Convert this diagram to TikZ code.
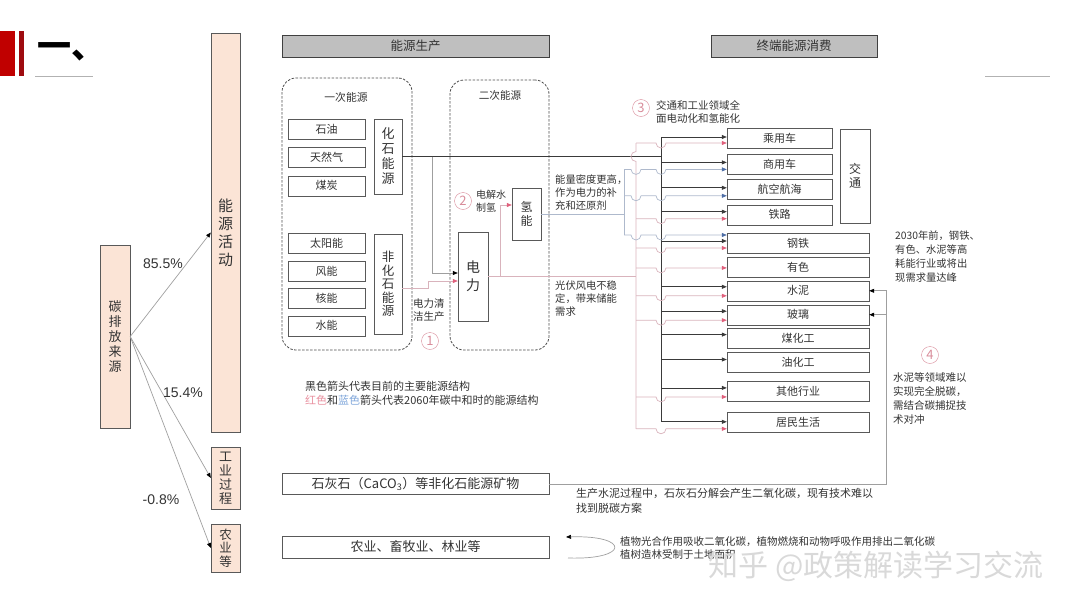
\documentclass[tikz,border=0pt]{standalone}
\usepackage{fontspec}
\setmainfont{Noto Sans CJK SC}
\newfontfamily\arialfont{Liberation Sans}
\usetikzlibrary{arrows.meta, positioning}

\definecolor{peach}{HTML}{FBE4D6}
\definecolor{edge}{HTML}{595959}
\definecolor{hdrfill}{HTML}{BFBFBF}
\definecolor{txt}{HTML}{333333}
\definecolor{kcol}{HTML}{3A3A3A}
\definecolor{rcol}{HTML}{D9B3BC}
\definecolor{rtip}{HTML}{E0607C}
\definecolor{bcol}{HTML}{AEB9CC}
\definecolor{btip}{HTML}{4E6EA6}
\definecolor{numcol}{HTML}{D88C9A}
\definecolor{legr}{HTML}{E8909F}
\definecolor{legb}{HTML}{7FA6DA}
\definecolor{titlered}{HTML}{C00000}
\definecolor{titledark}{HTML}{9E0B0F}

\newcommand{\fs}[2]{\fontsize{#1}{#2}\selectfont}

\begin{document}
\begin{tikzpicture}[
    x=1pt, y=-1pt,
    every node/.style={text=txt},
    tall/.style={rectangle, draw=edge, fill=peach, inner sep=0pt, align=center, minimum width=29pt},
    head/.style={rectangle, draw=black!75, fill=hdrfill, inner sep=0pt, minimum height=22pt, font=\fs{12.5}{14}},
    grp/.style={rectangle, draw=black!70, line width=0.8pt, dash pattern=on 2.5pt off 1.5pt, rounded corners=14pt, inner sep=0pt},
    src/.style={rectangle, draw=edge, inner sep=0pt, minimum width=77pt, minimum height=20pt, font=\fs{11}{13}},
    vbox/.style={rectangle, draw=edge, inner sep=0pt, align=center},
    use/.style={rectangle, draw=edge, inner sep=0pt, minimum height=20pt, font=\fs{11}{13}},
    wide/.style={rectangle, draw=edge, inner sep=0pt, minimum width=267pt, minimum height=21pt, font=\fs{13}{15}},
    note/.style={anchor=north west, align=left, inner sep=0pt},
    num/.style={circle, draw=numcol, text=numcol, inner sep=0pt, minimum size=17pt, font=\fs{13}{13}},
    pct/.style={font=\arialfont\fs{14}{16}, inner sep=0pt},
    kwire/.style={draw=kcol, line width=0.7pt},
    gwire/.style={draw=gray!75, line width=0.7pt},
    rwire/.style={draw=rcol, line width=0.7pt},
    bwire/.style={draw=bcol, line width=0.7pt},
    karr/.style={kwire, -{Triangle[length=5pt,width=4pt]}},
    garr/.style={gwire, -{Triangle[length=5pt,width=4pt,color=black]}},
    rarr/.style={rwire, -{Triangle[length=5pt,width=4pt,color=rtip]}},
    barr/.style={bwire, -{Triangle[length=5pt,width=4pt,color=btip]}},
]
    \useasboundingbox (0,0) rectangle (1080,608);

    % Title
    \fill[titlered] (0,31) rectangle (15,76);
    \fill[titledark] (19,31) rectangle (24,76);
    \node[anchor=west, text=black, font=\bfseries\fs{34}{34}] (title) at (34,52) {一、};
    \draw[gray!60, line width=0.6pt] (35,76) -- (93,76);
    \draw[gray!60, line width=0.6pt] (985,76) -- (1050,76);

    % Carbon sources
    \node[tall, minimum width=30pt, minimum height=183pt, font=\fs{13}{15}] (carbon) at (115,336.5) {碳\\排\\放\\来\\源};
    \node[tall, minimum height=399pt, font=\fs{15}{18}] (energy) at (225.5,232.5) {能\\源\\活\\动};
    \node[tall, minimum height=62pt, font=\fs{13}{14}] (indus) at (225.5,478) {工\\业\\过\\程};
    \node[tall, minimum height=48pt, font=\fs{12.5}{13.5}] (agri) at (225.5,548) {农\\业\\等};

    \draw[garr] (carbon.east) -- (energy.west);
    \draw[garr] (carbon.east) -- (indus.west);
    \draw[garr] (carbon.east) -- (agri.west);
    \node[pct] (p1) at (163,264) {85.5\%};
    \node[pct] (p2) at (183,393) {15.4\%};
    \node[pct] (p3) at (161,500) {-0.8\%};

    % Headers
    \node[head, minimum width=267pt] (prod) at (415.5,46) {能源生产};
    \node[head, minimum width=166pt] (cons) at (794,46) {终端能源消费};

    % Primary / secondary groups
    \node[grp, minimum width=130pt, minimum height=272pt] (prim) at (347,214) {};
    \node[font=\fs{10.8}{12}] (primlbl) at (346,97) {一次能源};
    \node[grp, minimum width=99pt, minimum height=270pt] (sec) at (499.5,215) {};
    \node[font=\fs{10.6}{12}] (seclbl) at (500,95) {二次能源};

    \node[src] (oil) at (326.5,129) {石油};
    \node[src, below=8pt of oil] (gas) {天然气};
    \node[src, below=8pt of gas] (coal) {煤炭};
    \node[src] (solar) at (326.5,243.5) {太阳能};
    \node[src, below=7pt of solar] (wind) {风能};
    \node[src, below=7pt of wind] (nuke) {核能};
    \node[src, below=7pt of nuke] (hydro) {水能};

    \node[vbox, minimum width=28pt, minimum height=75pt, font=\fs{13}{15}] (fossil) at (388,156.5) {化\\石\\能\\源};
    \node[vbox, minimum width=28pt, minimum height=100pt, font=\fs{12.5}{13.5}] (nonfos) at (388,284) {非\\化\\石\\能\\源};
    \node[vbox, minimum width=30pt, minimum height=89pt, font=\fs{14}{18}] (elec) at (473,276.5) {电\\力};
    \node[vbox, minimum width=29pt, minimum height=52pt, font=\fs{12}{14}] (h2) at (526.5,214) {氢\\能};

    % End uses
    \node[use, minimum width=105pt] (car) at (779.5,138.5) {乘用车};
    \node[use, minimum width=105pt, below=5pt of car] (truck) {商用车};
    \node[use, minimum width=105pt, below=5pt of truck] (air) {航空航海};
    \node[use, minimum width=105pt, below=5pt of air] (rail) {铁路};
    \node[vbox, minimum width=30pt, minimum height=94pt, font=\fs{12}{14}] (trans) at (855,176) {交\\通};
    \node[use, minimum width=142pt] (steel) at (798,243) {钢铁};
    \node[use, minimum width=142pt, below=3.5pt of steel] (nonfer) {有色};
    \node[use, minimum width=142pt, below=3.5pt of nonfer] (cement) {水泥};
    \node[use, minimum width=142pt, below=3.5pt of cement] (glass) {玻璃};
    \node[use, minimum width=142pt, below=3.5pt of glass] (coalchem) {煤化工};
    \node[use, minimum width=142pt, below=3.5pt of coalchem] (oilchem) {油化工};
    \node[use, minimum width=142pt, below=8pt of oilchem] (other) {其他行业};
    \node[use, minimum width=142pt, below=11pt of other] (home) {居民生活};

    % Minerals and land use
    \node[wide] (lime) at (415.5,484) {石灰石（CaCO\textsubscript{3}）等非化石能源矿物};
    \node[wide, minimum height=22pt] (farm) at (415.5,547) {农业、畜牧业、林业等};

    % Bus positions
    \coordinate (kx) at (661,0);
    \coordinate (kxl) at (656,0);
    \coordinate (rx) at (636,0);
    \coordinate (rxl) at (631,0);
    \coordinate (hx) at (624,0);
    \coordinate (fx) at (432,156.5);
    \coordinate (ex) at (500,276.5);
    \coordinate (cx) at (886,0);

    % Energy production wiring
    \draw[kwire] (fossil.east) -- (kx |- fossil.east);
    \draw[garr] (fx) |- ([yshift=3.5pt]elec.west);
    \draw[rarr] ([yshift=-4pt]nonfos.east) -- ++(26,0) |- ([yshift=-4.5pt]elec.west);
    \draw[rwire] (elec.east) -- (rx |- elec.east);
    \draw[rarr] (ex) |- ([yshift=9pt]h2.west);
    \draw[bwire] (h2.east) -- (hx |- h2.east);

    % Black bus
    \coordinate (ktop) at ([yshift=1.5pt]car.west);
    \coordinate (kbot) at ([yshift=0.5pt]home.west);
    \draw[kwire] (kx |- ktop) -- (kx |- kbot);
    \foreach \n/\s in {car/1.5, truck/1.5, air/1.5, rail/3, steel/2, cement/4, glass/3.5, coalchem/4, oilchem/3, other/3, home/0.5} {
        \coordinate (t) at ([yshift=\s pt]\n.west);
        \draw[karr] (kx |- t) -- (t);
    }

    % Red bus
    \coordinate (rtop) at ([yshift=-4.5pt]car.west);
    \coordinate (rbot) at ([yshift=-6.5pt]home.west);
    \coordinate (rcross) at (rx |- fossil.east);
    \draw[rwire] (rx |- rtop) -- ([yshift=5pt]rcross) arc[start angle=90, end angle=270, radius=5pt] -- (rx |- rbot);
    \foreach \n/\s in {car/-4.5, rail/-4, steel/-5, nonfer/-1, cement/-5, glass/-5.5, other/-6, home/-6.5} {
        \coordinate (t) at ([yshift=\s pt]\n.west);
        \draw[rarr] (rx |- t) -- (kxl |- t) arc[start angle=180, end angle=360, radius=5pt] -- (t);
    }

    % Blue (hydrogen) bus
    \coordinate (btop) at ([yshift=-5.5pt]truck.west);
    \coordinate (bbot) at ([yshift=8pt]steel.west);
    \draw[bwire] (hx |- btop) -- (hx |- bbot);
    \foreach \n/\s in {truck/-5.5, air/-6.5, steel/8} {
        \coordinate (t) at ([yshift=\s pt]\n.west);
        \draw[barr] (hx |- t) -- (rxl |- t) arc[start angle=180, end angle=360, radius=5pt]
            -- (kxl |- t) arc[start angle=180, end angle=360, radius=5pt] -- (t);
    }

    % Limestone return
    \draw[garr] (lime.east) -| (cx |- cement.east) -- (cement.east);
    \draw[garr] (cx |- glass.east) -- (glass.east);

    % Land use loop
    \coordinate (la) at (568,558);
    \coordinate (lb) at (566,537);
    \draw[garr] (la) .. controls (630,560) and (630,535) .. (lb);

    % Notes
    \node[num] (c1) at (430,341) {1};
    \node[note, font=\fs{10.5}{13}] (n1) at (413,298) {电力清\\洁生产};
    \node[num] (c2) at (463,201) {2};
    \node[note, font=\fs{10}{13}] (n2) at (476,190) {电解水\\制氢};
    \node[note, font=\fs{10.3}{13}] (n3) at (555,175) {能量密度更高，\\作为电力的补\\充和还原剂};
    \node[note, font=\fs{10.3}{13}] (n4) at (555,281) {光伏风电不稳\\定，带来储能\\需求};
    \node[num] (c3) at (641,108) {3};
    \node[note, font=\fs{10.5}{13}] (n5) at (656,100) {交通和工业领域全\\面电动化和氢能化};
    \node[note, font=\fs{10.3}{14}] (n6) at (895,231) {2030年前，钢铁、\\有色、水泥等高\\耗能行业或将出\\现需求量达峰};
    \node[num] (c4) at (930,355) {4};
    \node[note, font=\fs{10.5}{14}] (n7) at (893,372) {水泥等领域难以\\实现完全脱碳，\\需结合碳捕捉技\\术对冲};
    \node[note, font=\fs{11}{14}] (legend) at (305,381) {黑色箭头代表目前的主要能源结构\\{\color{legr}红色}和{\color{legb}蓝色}箭头代表2060年碳中和时的能源结构};
    \node[note, font=\fs{11}{15}] (n8) at (576,488) {生产水泥过程中，石灰石分解会产生二氧化碳，现有技术难以\\找到脱碳方案};
    \node[note, font=\fs{10.5}{13.5}] (n9) at (620,536) {植物光合作用吸收二氧化碳，植物燃烧和动物呼吸作用排出二氧化碳\\植树造林受制于土地面积};

    % Watermark
    \node[font=\fs{30}{30}, text=gray!30] (mark) at (876,566) {知乎 @政策解读学习交流};
\end{tikzpicture}
\end{document}
